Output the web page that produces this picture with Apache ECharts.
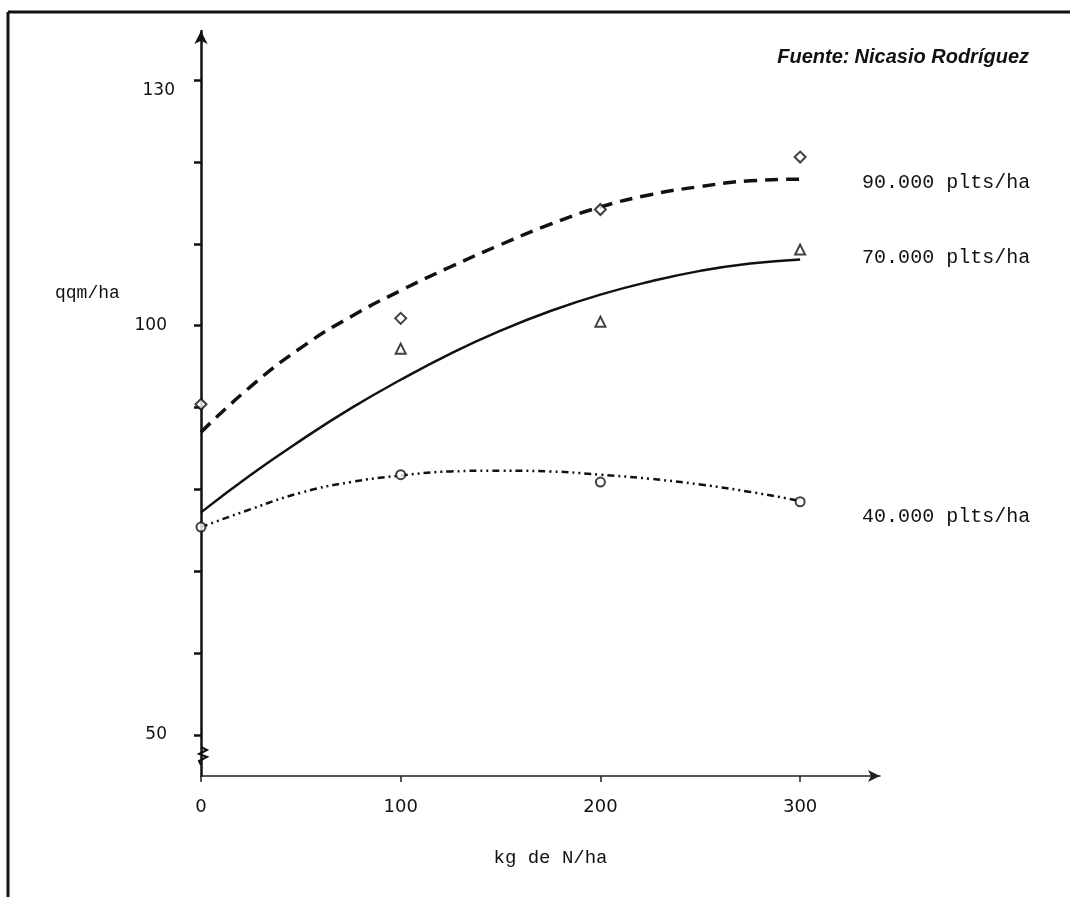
<!DOCTYPE html>
<html>
<head>
<meta charset="utf-8">
<script src="https://cdn.jsdelivr.net/npm/echarts@6/dist/echarts.min.js"></script>
<style>
  html, body { margin: 0; padding: 0; background: #fff; }
  #chart { width: 1070px; height: 897px; }
</style>
</head>
<body>
<div id="chart"></div>
<script>
// dosis de N (kg/ha) donde se leen las curvas ajustadas
const doseGrid = [0, 25, 50, 75, 100, 125, 150, 175, 200, 225, 250, 275, 300]
// curvas ajustadas (qqm/ha)
const fit90 = [87.0, 92.6, 97.3, 101.1, 104.3, 107.2, 109.9, 112.4, 114.5, 116.0, 117.0, 117.7, 117.9]
const fit70 = [77.2, 81.8, 86.0, 89.9, 93.4, 96.6, 99.4, 101.8, 103.8, 105.4, 106.7, 107.6, 108.1]
const fit40 = [75.4, 77.6, 79.6, 80.9, 81.7, 82.2, 82.3, 82.2, 81.8, 81.3, 80.6, 79.7, 78.6]

// valores observados
const obsDose90 = [0, 100, 200, 300]
const obs90 = [90.4, 100.9, 114.2, 120.6]
const obsDose70 = [100, 200, 300]
const obs70 = [97.2, 100.5, 109.3]
const obsDose40 = [0, 100, 200, 300]
const obs40 = [75.4, 81.8, 80.9, 78.5]

// marcas de los ejes
const yTicks = [50, 60, 70, 80, 90, 100, 110, 120, 130]
const yLabels = [50, 100, 130]
const xTicks = [0, 100, 200, 300]

const pairs = (xs, ys) => xs.map((x, i) => [x, ys[i]])

const chart = echarts.init(document.getElementById('chart'))

const mono = 'Liberation Mono'

const curveLabel = (dy) => ({
  show: true,
  formatter: '{a}',
  distance: 62,
  offset: [0, dy],
  fontFamily: mono,
  fontSize: 20,
  color: '#111'
})

const option = {
  backgroundColor: '#fff',
  animation: false,
  title: [
    {
      text: '{b|Fuente:} {i|Nicasio Rodríguez}',
      right: 36,
      top: 42,
      textStyle: {
        rich: {
          b: { fontFamily: 'Liberation Sans', fontStyle: 'italic', fontWeight: 'bold', fontSize: 20, color: '#111' },
          i: { fontFamily: 'Liberation Sans', fontStyle: 'italic', fontSize: 20, color: '#111' }
        }
      }
    },
    {
      text: 'qqm/ha',
      left: 50,
      top: 279,
      textStyle: { fontFamily: mono, fontSize: 18, fontWeight: 'normal', color: '#111' }
    }
  ],
  grid: { left: 201, right: 190, top: 31, bottom: 121 },
  xAxis: {
    type: 'value',
    min: 0,
    max: 340,
    name: 'kg de N/ha',
    nameLocation: 'middle',
    nameGap: 72,
    nameTextStyle: { fontFamily: mono, fontSize: 19, color: '#111', padding: [0, 0, 0, 20] },
    axisLine: {
      show: true,
      symbol: ['none', 'arrow'],
      symbolSize: [9, 12],
      lineStyle: { color: '#222', width: 1.5 }
    },
    axisTick: { show: true, customValues: xTicks, length: 6, lineStyle: { color: '#222', width: 1.5 } },
    axisLabel: {
      customValues: xTicks,
      margin: 22,
      fontFamily: 'DejaVu Sans',
      fontSize: 18,
      color: '#111'
    },
    splitLine: { show: false }
  },
  yAxis: {
    type: 'value',
    min: 45,
    max: 136,
    axisLine: {
      show: true,
      symbol: ['none', 'arrow'],
      symbolSize: [10, 13],
      lineStyle: { color: '#111', width: 2.5 }
    },
    axisTick: { show: true, customValues: yTicks, length: 7, lineStyle: { color: '#111', width: 2.5 } },
    axisLabel: {
      customValues: yLabels,
      margin: 34,
      fontFamily: 'DejaVu Sans',
      fontSize: 17,
      color: '#111',
      formatter: v => (v === 130 ? '{top|130}' : String(v)),
      rich: {
        top: { fontFamily: 'DejaVu Sans', fontSize: 17, color: '#111', padding: [20, -8, 0, 0] }
      }
    },
    splitLine: { show: false }
  },
  graphic: [
    { type: 'line', shape: { x1: 8, y1: 12, x2: 1070, y2: 12 }, style: { stroke: '#111', lineWidth: 3 } },
    { type: 'line', shape: { x1: 8, y1: 12, x2: 8, y2: 897 }, style: { stroke: '#111', lineWidth: 3 } }
  ],
  series: [
    {
      name: '90.000 plts/ha',
      type: 'line',
      smooth: true,
      showSymbol: false,
      data: pairs(doseGrid, fit90),
      lineStyle: { color: '#111', width: 3.5, type: [13, 8] },
      endLabel: curveLabel(4)
    },
    {
      name: '70.000 plts/ha',
      type: 'line',
      smooth: true,
      showSymbol: false,
      data: pairs(doseGrid, fit70),
      lineStyle: { color: '#111', width: 2.5 },
      endLabel: curveLabel(-2)
    },
    {
      name: '40.000 plts/ha',
      type: 'line',
      smooth: true,
      showSymbol: false,
      data: pairs(doseGrid, fit40),
      lineStyle: { color: '#111', width: 2.5, type: [7, 4, 2, 4, 2, 4] },
      endLabel: curveLabel(16)
    },
    {
      name: 'obs 90',
      type: 'scatter',
      symbol: 'diamond',
      symbolSize: [11, 11],
      data: pairs(obsDose90, obs90),
      itemStyle: { color: '#fff', borderColor: '#111', borderWidth: 2 },
      z: 5
    },
    {
      name: 'obs 70',
      type: 'scatter',
      symbol: 'triangle',
      symbolSize: [10, 10],
      data: pairs(obsDose70, obs70),
      itemStyle: { color: '#fff', borderColor: '#111', borderWidth: 2 },
      z: 5
    },
    {
      name: 'obs 40',
      type: 'scatter',
      symbol: 'circle',
      symbolSize: 9,
      data: pairs(obsDose40, obs40),
      itemStyle: { color: '#fff', borderColor: '#111', borderWidth: 2 },
      z: 5
    },
    {
      // corte del eje Y
      name: 'corte',
      type: 'custom',
      silent: true,
      data: [[0, 47.2]],
      renderItem: (params, api) => {
        const p = api.coord([api.value(0), api.value(1)])
        return {
          type: 'polyline',
          shape: {
            points: [
              [p[0], p[1] - 11],
              [p[0] + 6, p[1] - 8],
              [p[0] - 2, p[1] - 4],
              [p[0] + 6, p[1] - 1],
              [p[0] - 2, p[1] + 3],
              [p[0], p[1] + 7]
            ]
          },
          style: { stroke: '#111', lineWidth: 2, fill: null }
        }
      }
    }
  ]
}

chart.setOption(option)
window.addEventListener('resize', () => chart.resize())
</script>
</body>
</html>
